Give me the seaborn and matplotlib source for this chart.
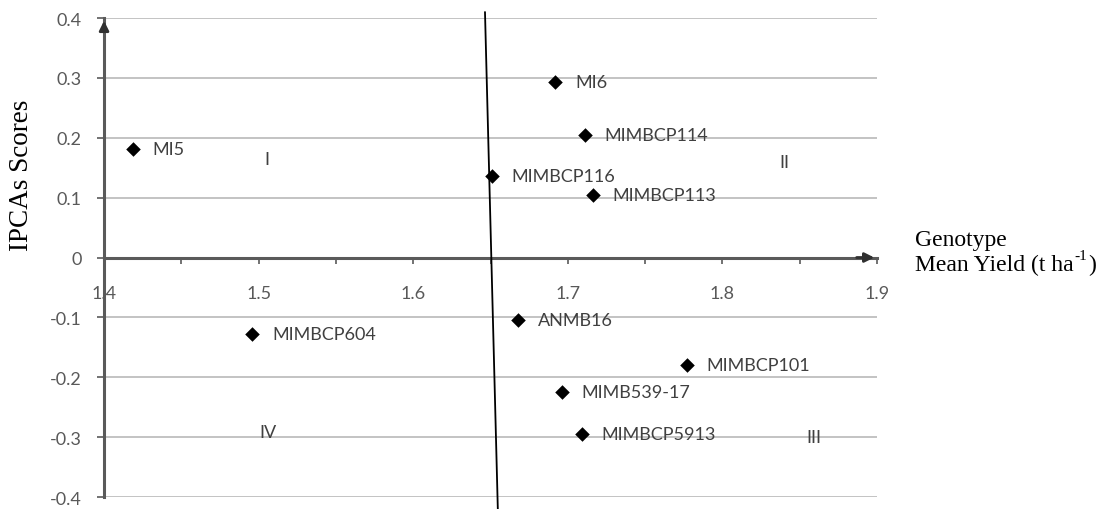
import matplotlib
matplotlib.use("Agg")
import matplotlib.pyplot as plt
import seaborn as sns
import pandas as pd
from matplotlib.ticker import FixedLocator, MultipleLocator

# ---- data ----
genotypes = ["MI5", "MI6", "MIMBCP114", "MIMBCP116", "MIMBCP113",
             "ANMB16", "MIMBCP101", "MIMB539-17", "MIMBCP5913", "MIMBCP604"]
mean_yield = [1.419, 1.692, 1.711, 1.651, 1.716,
              1.668, 1.777, 1.696, 1.709, 1.496]
ipca_scores = [0.182, 0.293, 0.204, 0.136, 0.104,
               -0.104, -0.179, -0.225, -0.295, -0.127]

quadrant_labels = ["I", "II", "III", "IV"]
quadrant_x = [1.505, 1.840, 1.859, 1.506]
quadrant_y = [0.164, 0.159, -0.300, -0.291]

mean_line_x = [1.6464, 1.6547]
mean_line_y = [0.41, -0.42]

x_ticks = [1.4, 1.5, 1.6, 1.7, 1.8, 1.9]
x_tick_labels = ["1.4", "1.5", "1.6", "1.7", "1.8", "1.9"]
y_ticks = [-0.4, -0.3, -0.2, -0.1, 0.0, 0.1, 0.2, 0.3, 0.4]
y_tick_labels = ["-0.4", "-0.3", "-0.2", "-0.1", "0", "0.1", "0.2", "0.3", "0.4"]

df = pd.DataFrame({"genotype": genotypes, "yield": mean_yield, "ipca": ipca_scores})

# ---- style ----
sns.set_theme(style="white")
plt.rcParams["font.family"] = ["Lato", "DejaVu Sans"]

GRAY_TXT = "#595959"
AXIS_C = "#5a5a5a"

fig = plt.figure(figsize=(11.14, 5.10), dpi=100)
ax = fig.add_axes([0.0934, 0.0235, 0.6939, 0.9392])

ax.set_xlim(1.4, 1.9)
ax.set_ylim(-0.4, 0.4)

# grid
ax.yaxis.set_major_locator(FixedLocator(y_ticks))
ax.set_yticklabels(y_tick_labels)
ax.grid(axis="y", color="#b3b3b3", lw=1.1)
ax.grid(axis="x", visible=False)
ax.set_axisbelow(True)

# scatter
sns.scatterplot(data=df, x="yield", y="ipca", marker="D", color="black",
                s=55, edgecolor="black", linewidth=0, ax=ax, zorder=5, clip_on=False)

for g, xv, yv in zip(genotypes, mean_yield, ipca_scores):
    ax.annotate(g, (xv, yv), xytext=(14, 0), textcoords="offset points",
                va="center", ha="left", fontsize=13, color="#404040")

for q, xv, yv in zip(quadrant_labels, quadrant_x, quadrant_y):
    ax.text(xv, yv, q, ha="center", va="center", fontsize=13, color="#404040")

# mean line
ax.plot(mean_line_x, mean_line_y, color="black", lw=1.3, clip_on=False, zorder=4)

# spines
for s in ["top", "right"]:
    ax.spines[s].set_visible(False)
ax.spines["bottom"].set_position(("data", 0))
ax.spines["bottom"].set_color(AXIS_C)
ax.spines["bottom"].set_linewidth(2.2)
ax.spines["left"].set_color(AXIS_C)
ax.spines["left"].set_linewidth(2.2)

# arrows
ax.annotate("", xy=(1.9, 0), xytext=(1.885, 0),
            arrowprops=dict(arrowstyle="-|>", color="#303030", lw=2, mutation_scale=14),
            annotation_clip=False)
ax.annotate("", xy=(1.4, 0.4), xytext=(1.4, 0.375),
            arrowprops=dict(arrowstyle="-|>", color="#303030", lw=2, mutation_scale=14),
            annotation_clip=False)

# ticks
ax.xaxis.set_major_locator(FixedLocator(x_ticks))
ax.set_xticklabels(x_tick_labels)
ax.xaxis.set_minor_locator(MultipleLocator(0.05))
ax.tick_params(axis="x", which="both", direction="out", length=4, width=1.2,
               color=AXIS_C, bottom=True)
ax.tick_params(axis="x", which="major", pad=16, labelsize=13, labelcolor=GRAY_TXT)
ax.tick_params(axis="y", which="major", direction="out", length=5, width=1.2,
               color=AXIS_C, left=True, pad=11, labelsize=13, labelcolor=GRAY_TXT)

ax.set_xlabel("")
ax.set_ylabel("")

# axis titles
fig.text(22 / 1114, 1 - 175 / 510, "IPCAs Scores", rotation=90, ha="center", va="center",
         fontsize=19.5, family="Liberation Serif", color="black")

serif = dict(family="Liberation Serif", color="black")
fig.text(915 / 1114, 1 - 241 / 510, "Genotype", ha="left", va="center", fontsize=17, **serif)
t1 = fig.text(915 / 1114, 1 - 265 / 510, "Mean Yield (t ha", ha="left", va="center",
              fontsize=17, **serif)
fig.canvas.draw()
r = fig.canvas.get_renderer()
bb = t1.get_window_extent(renderer=r)
x_sup = bb.x1 + 1
t2 = fig.text(x_sup / 1114, 1 - 257 / 510, "-1", ha="left", va="center", fontsize=11, **serif)
bb2 = t2.get_window_extent(renderer=r)
fig.text((bb2.x1 + 1) / 1114, 1 - 265 / 510, ")", ha="left", va="center", fontsize=17, **serif)

fig.savefig("out.png", dpi=100)
